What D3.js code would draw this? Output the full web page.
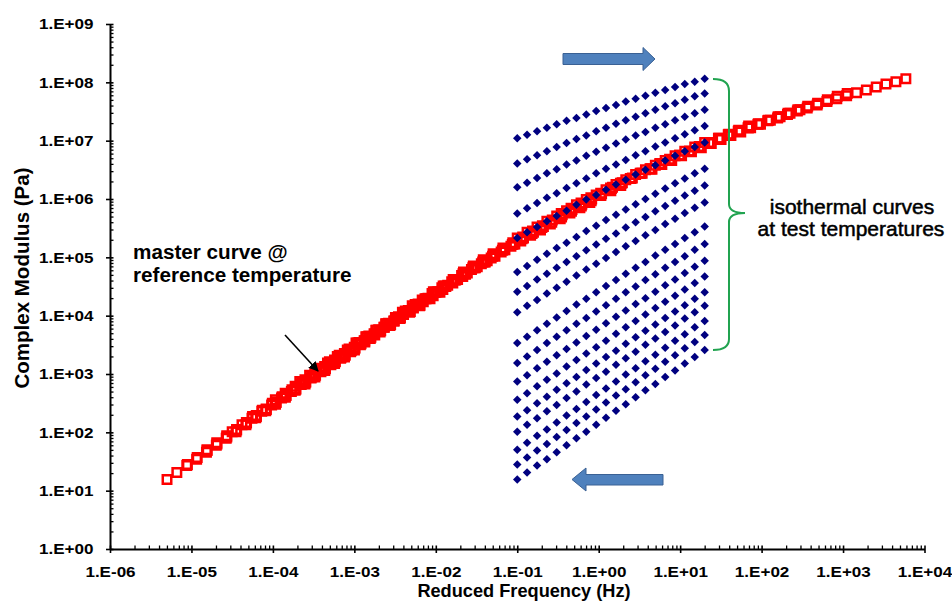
<!DOCTYPE html>
<html><head><meta charset="utf-8">
<script src="https://cdn.jsdelivr.net/npm/d3@7"></script>
<style>body{margin:0;background:#fff}svg{display:block}text{font-family:"Liberation Sans",Arial,sans-serif}</style>
</head><body>
<svg id="chart" width="952" height="601"></svg>
<script>
// ---------------- data ----------------
const isothermFrequency = [0.1, 0.132, 0.175, 0.231, 0.305, 0.403, 0.533, 0.704, 0.931, 1.23, 1.63, 2.15, 2.84, 3.75, 4.96, 6.55, 8.66, 11.4, 15.1, 20];
// log10 of the shift factor aT for each test temperature (coldest first)
const logShiftFactor = [2.47, 1.75, 1.17, 0.54, 0, -0.66, -1.03, -1.41, -1.98, -2.33, -2.67, -2.97, -3.25, -3.50, -3.81, -4.05, -4.30];
// log10 of complex modulus (Pa) of each isotherm at isothermFrequency
const iso01 = [7.04,7.10,7.16,7.22,7.28,7.34,7.39,7.45,7.51,7.56,7.61,7.67,7.72,7.77,7.82,7.87,7.92,7.97,8.01,8.06];
const iso02 = [6.61,6.68,6.75,6.82,6.89,6.96,7.03,7.09,7.16,7.22,7.29,7.35,7.41,7.47,7.53,7.59,7.64,7.70,7.76,7.81];
const iso03 = [6.20,6.28,6.36,6.44,6.51,6.59,6.66,6.74,6.81,6.88,6.95,7.02,7.09,7.15,7.22,7.28,7.35,7.41,7.47,7.53];
const iso04 = [5.75,5.84,5.93,6.02,6.10,6.19,6.27,6.35,6.44,6.52,6.59,6.67,6.75,6.82,6.90,6.97,7.04,7.11,7.18,7.25];
const iso05 = [5.33,5.43,5.52,5.62,5.71,5.80,5.90,5.99,6.07,6.16,6.25,6.33,6.42,6.50,6.58,6.66,6.74,6.82,6.89,6.97];
const iso06 = [4.75,4.85,4.96,5.06,5.16,5.25,5.35,5.45,5.54,5.64,5.73,5.82,5.91,6.00,6.09,6.18,6.27,6.35,6.44,6.52];
const iso07 = [4.41,4.51,4.62,4.72,4.82,4.92,5.02,5.12,5.22,5.32,5.41,5.51,5.60,5.69,5.79,5.88,5.97,6.06,6.14,6.23];
const iso08 = [4.06,4.17,4.27,4.38,4.48,4.58,4.69,4.79,4.89,4.99,5.09,5.19,5.28,5.38,5.47,5.57,5.66,5.76,5.85,5.94];
const iso09 = [3.53,3.64,3.75,3.86,3.97,4.08,4.19,4.29,4.40,4.51,4.61,4.72,4.82,4.92,5.03,5.13,5.23,5.33,5.43,5.53];
const iso10 = [3.19,3.30,3.41,3.53,3.64,3.75,3.86,3.96,4.07,4.18,4.29,4.40,4.50,4.61,4.71,4.82,4.92,5.02,5.13,5.23];
const iso11 = [2.87,2.98,3.10,3.21,3.32,3.43,3.54,3.65,3.76,3.87,3.98,4.09,4.20,4.30,4.41,4.52,4.62,4.73,4.84,4.94];
const iso12 = [2.56,2.67,2.79,2.90,3.01,3.13,3.24,3.35,3.46,3.57,3.69,3.80,3.91,4.02,4.13,4.24,4.34,4.45,4.56,4.67];
const iso13 = [2.27,2.38,2.50,2.61,2.73,2.84,2.95,3.07,3.18,3.29,3.40,3.52,3.63,3.74,3.85,3.96,4.07,4.18,4.29,4.40];
const iso14 = [2.01,2.13,2.24,2.36,2.47,2.59,2.70,2.82,2.93,3.04,3.16,3.27,3.38,3.50,3.61,3.72,3.83,3.95,4.06,4.17];
const iso15 = [1.70,1.82,1.94,2.05,2.17,2.29,2.40,2.52,2.64,2.75,2.87,2.99,3.10,3.22,3.33,3.45,3.57,3.68,3.80,3.91];
const iso16 = [1.45,1.57,1.69,1.80,1.92,2.04,2.16,2.27,2.39,2.51,2.63,2.74,2.86,2.98,3.09,3.21,3.32,3.44,3.55,3.67];
const iso17 = [1.19,1.31,1.43,1.54,1.66,1.78,1.90,2.01,2.13,2.25,2.37,2.48,2.60,2.72,2.83,2.95,3.06,3.18,3.29,3.41];
const isotherms = [iso01,iso02,iso03,iso04,iso05,iso06,iso07,iso08,iso09,iso10,iso11,iso12,iso13,iso14,iso15,iso16,iso17];

const xTickValues = [1e-6,1e-5,1e-4,1e-3,1e-2,1e-1,1e0,1e1,1e2,1e3,1e4];
const xTickLabels = ["1.E-06","1.E-05","1.E-04","1.E-03","1.E-02","1.E-01","1.E+00","1.E+01","1.E+02","1.E+03","1.E+04"];
const yTickValues = [1e0,1e1,1e2,1e3,1e4,1e5,1e6,1e7,1e8,1e9];
const yTickLabels = ["1.E+00","1.E+01","1.E+02","1.E+03","1.E+04","1.E+05","1.E+06","1.E+07","1.E+08","1.E+09"];

// ---------------- chart ----------------
const SX = 1.1; // slight horizontal stretch of the tick lettering
const svg = d3.select("#chart");
svg.append("rect").attr("width",952).attr("height",601).attr("fill","#fff");

const x = d3.scaleLog().domain([1e-6,1e4]).range([110,924.5]);
const y = d3.scaleLog().domain([1,1e9]).range([549,24]);

const isoPoints = [], masterPoints = [];
isotherms.forEach((iso,k)=>{
  iso.forEach((lg,i)=>{
    const f = isothermFrequency[i], g = Math.pow(10,lg);
    isoPoints.push({f, g});
    masterPoints.push({f: f*Math.pow(10,logShiftFactor[k]), g});
  });
});

function minors(lo,hi){const a=[];for(let e=lo;e<hi;e++)for(let m=2;m<=9;m++)a.push(m*Math.pow(10,e));return a;}

// Y axis
const yMinor = svg.append("g").attr("transform","translate(110,0)")
  .call(d3.axisLeft(y).tickValues(minors(0,9)).tickFormat("").tickSizeInner(-3.5).tickSizeOuter(0));
yMinor.select(".domain").remove();
yMinor.selectAll(".tick line").attr("stroke","#000").attr("stroke-width",1.3);

const yAxis = svg.append("g").attr("transform","translate(110,0)")
  .call(d3.axisLeft(y).tickValues(yTickValues).tickFormat((d,i)=>yTickLabels[i]).tickSizeInner(4).tickSizeOuter(0).tickPadding(12));
yAxis.select(".domain").attr("stroke","#000").attr("stroke-width",2);
yAxis.selectAll(".tick line").attr("x1",-4).attr("x2",3.5).attr("stroke","#000").attr("stroke-width",1.6);
yAxis.selectAll(".tick text").attr("x",-16.5/SX).attr("transform",`scale(${SX},1)`)
  .style("font-size","15.5px").style("font-weight","bold").attr("fill","#000");

// X axis
const xMinor = svg.append("g").attr("transform","translate(0,549)")
  .call(d3.axisBottom(x).tickValues(minors(-6,4)).tickFormat("").tickSizeInner(-3.5).tickSizeOuter(0));
xMinor.select(".domain").remove();
xMinor.selectAll(".tick line").attr("stroke","#000").attr("stroke-width",1.3);

const xAxis = svg.append("g").attr("transform","translate(0,549)")
  .call(d3.axisBottom(x).tickValues(xTickValues).tickFormat((d,i)=>xTickLabels[i]).tickSizeInner(4).tickSizeOuter(0));
xAxis.select(".domain").attr("stroke","#000").attr("stroke-width",2);
xAxis.selectAll(".tick line").attr("y1",-3.5).attr("y2",4).attr("stroke","#000").attr("stroke-width",1.6);
xAxis.selectAll(".tick text").attr("y",16.8).attr("transform",`scale(${SX},1)`)
  .style("font-size","15.5px").style("font-weight","bold").attr("fill","#000");

function label(txt,px,py,size,weight,anchor,extra){
  const t = svg.append("text").attr("x",px).attr("y",py).text(txt).attr("text-anchor",anchor||"start")
    .style("font-size",size+"px").style("font-weight",weight).attr("fill","#000");
  if(extra) extra(t);
  return t;
}

// axis titles
label("Reduced Frequency (Hz)",524,597,18.2,"bold","middle");
svg.append("text").attr("transform","translate(29,278) rotate(-90)")
  .text("Complex Modulus (Pa)").attr("text-anchor","middle")
  .style("font-size","20.5px").style("font-weight","bold").attr("fill","#000");

// master curve (red hollow squares)
const sq = d3.symbol().type(d3.symbolSquare).size(72);
svg.append("g").selectAll("path").data(masterPoints).join("path")
  .attr("d",sq).attr("transform",d=>`translate(${x(d.f)},${y(d.g)})`)
  .attr("fill","none").attr("stroke","#ff0000").attr("stroke-width",2.5);

// isotherms (navy diamonds)
const dm = d3.symbol().type(d3.symbolSquare).size(36);
svg.append("g").selectAll("path").data(isoPoints).join("path")
  .attr("d",dm).attr("transform",d=>`translate(${x(d.f)},${y(d.g)}) rotate(45)`)
  .attr("fill","#000080");

// block arrows
svg.append("path").attr("d","M563,53.5 L643,53.5 L643,47.5 L655,59 L643,70.5 L643,64.5 L563,64.5 Z")
  .attr("fill","#4f81bd").attr("stroke","#3a6194").attr("stroke-width",1);
svg.append("path").attr("d","M663,474.5 L586,474.5 L586,468 L572,479.5 L586,491 L586,485 L663,485 Z")
  .attr("fill","#4f81bd").attr("stroke","#3a6194").attr("stroke-width",1);

// green brace
svg.append("path").attr("d","M713,79 Q729,79 729,91 L729,204 Q729,213 745,213 Q729,213 729,222 L729,339 Q729,350 713,350")
  .attr("fill","none").attr("stroke","#21a350").attr("stroke-width",2);

// annotation texts
label("master curve @",133,259,20.7,"bold","start");
label("reference temperature",133,282,20.7,"bold","start");
label("isothermal curves",852,214,21,"normal","middle",t=>t.attr("stroke","#000").attr("stroke-width",0.5));
label("at test temperatures",851,236,21,"normal","middle",t=>t.attr("stroke","#000").attr("stroke-width",0.5));

// pointer arrow
const defs = svg.append("defs");
defs.append("marker").attr("id","ah").attr("viewBox","0 0 10 10").attr("refX",9).attr("refY",5)
  .attr("markerWidth",10).attr("markerHeight",10).attr("markerUnits","userSpaceOnUse").attr("orient","auto")
  .append("path").attr("d","M0,0 L10,5 L0,10 Z").attr("fill","#000");
svg.append("line").attr("x1",285).attr("y1",335).attr("x2",318).attr("y2",371)
  .attr("stroke","#000").attr("stroke-width",1.6).attr("marker-end","url(#ah)");
</script>
</body></html>
